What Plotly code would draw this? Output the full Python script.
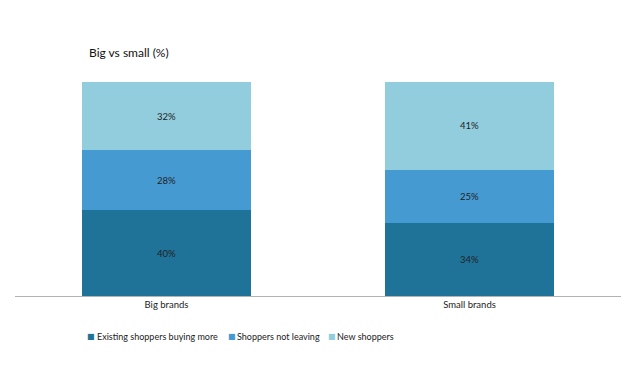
import plotly.graph_objects as go

categories = ["Big brands", "Small brands"]
series_names = ["Existing shoppers buying more", "Shoppers not leaving", "New shoppers"]
existing = [40, 34]
not_leaving = [28, 25]
new_shoppers = [32, 41]
colors = ["#1F7399", "#469AD2", "#92CDDE"]

FONT = "Lato, Open Sans, sans-serif"

# page body has an 8px margin; figure is sized/placed to compensate
OFF = 8
W, H = 640 - OFF, 367 - OFF
L, R, T, B = 15 - OFF, 19, 82 - OFF, 71
PW, PH = W - L - R, H - T - B


def px_x(x):  # window px -> paper x
    return (x - OFF - L) / PW


def px_y(y):  # window px -> paper y
    return (H - B - (y - OFF)) / PH


fig = go.Figure()
for name, vals, col in zip(series_names, [existing, not_leaving, new_shoppers], colors):
    fig.add_trace(go.Bar(
        x=categories, y=vals, name=name,
        marker=dict(color=col, line=dict(width=0)),
        text=[f"{v}%" for v in vals], textposition="inside",
        insidetextanchor="middle",
        textfont=dict(family=FONT, size=9.5, color="#222222"),
        hoverinfo="skip",
    ))

fig.update_layout(
    barmode="stack",
    bargap=0.443,
    width=W, height=H,
    margin=dict(l=L, r=R, t=T, b=B),
    paper_bgcolor="white", plot_bgcolor="white",
    font=dict(family=FONT, size=9.5, color="#222222"),
    showlegend=False,
)
fig.update_xaxes(showline=True, linecolor="#B3B3B3", linewidth=1, ticks="",
                 tickfont=dict(family=FONT, size=9.5, color="#222222"), showgrid=False)
fig.update_yaxes(range=[0, 100], visible=False, showgrid=False)

fig.add_annotation(text="Big vs small (%)", xref="paper", yref="paper",
                   x=px_x(87), y=px_y(53), xanchor="left", yanchor="middle",
                   showarrow=False, font=dict(family=FONT, size=12, color="#111111"))

# legend (custom, to match compact swatch spacing)
legend_sq_x = [85, 225.5, 325.5]
legend_tx_x = [95, 235, 335]
for name, col, sx, tx in zip(series_names, colors, legend_sq_x, legend_tx_x):
    fig.add_annotation(text="■", xref="paper", yref="paper",
                       x=px_x(sx), y=px_y(336), xanchor="left", yanchor="middle",
                       showarrow=False, font=dict(family="DejaVu Sans", size=8, color=col))
    fig.add_annotation(text=name, xref="paper", yref="paper",
                       x=px_x(tx), y=px_y(336), xanchor="left", yanchor="middle",
                       showarrow=False, font=dict(family=FONT, size=9, color="#222222"))

fig.write_html("out.html")
